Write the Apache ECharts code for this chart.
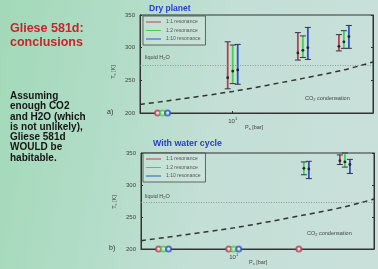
<!DOCTYPE html>
<html><head><meta charset="utf-8">
<script src="https://cdn.jsdelivr.net/npm/echarts@6/dist/echarts.min.js"></script>
<style>
html,body{margin:0;padding:0;width:378px;height:269px;overflow:hidden;}
body{background:linear-gradient(100deg,#a2d9b8 0%,#b0dcc6 28%,#c3dfd6 55%,#c9e0da 100%);}
#c{width:378px;height:269px;}
</style></head><body><div id="c"></div>
<script>
// ---- data ----
const resonances = ['1:1 resonance', '1:2 resonance', '1:10 resonance'];
const yTicks = [200, 250, 300, 350];
const xTickLabel = 10;            // 10^1 bar
const liquidT = 273;              // liquid H2O line (K)
const frozenT = 200;              // markers at the cold limit
// CO2 condensation curve: pressure (bar) / temperature (K)
const co2P = [4, 10, 20, 30, 40];
const co2T = [213, 233, 253, 266, 278];
// Dry planet: [P bar, mean T, low T, high T]
const dry11  = [[10, 254, 237, 309], [20, 292, 281, 323], [30, 302, 295, 320]];
const dry12  = [[10, 264, 245, 304], [20, 296, 285, 318], [30, 309, 299, 326]];
const dry110 = [[10, 266, 244, 305], [20, 300, 282, 331], [30, 317, 299, 334]];
const dryFrozen11 = [5], dryFrozen12 = [5], dryFrozen110 = [5];
// With water cycle
const wet11  = [[30, 338, 332, 347]];
const wet12  = [[20, 326, 316, 336], [30, 336, 328, 350]];
const wet110 = [[20, 325, 310, 337], [30, 332, 318, 340]];
const wetFrozen11 = [5, 10, 20], wetFrozen12 = [5, 10], wetFrozen110 = [5, 10];

// ---- styling ----
const colors = ['#b8404e', '#3fd34a', '#2f55c2'];
const offsets = [-5, 0, 5];
const FONT = 'Liberation Sans, Arial, sans-serif';

function errRender(offset, color) {
  return function (params, api) {
    const p = api.value(0);
    const top = api.coord([p, api.value(3)]);
    const bot = api.coord([p, api.value(2)]);
    const mid = api.coord([p, api.value(1)]);
    const x = top[0] + offset, cw = 3;
    const st = { stroke: color, lineWidth: 1.8 };
    return { type: 'group', children: [
      { type: 'line', shape: { x1: x, y1: top[1], x2: x, y2: bot[1] }, style: st },
      { type: 'line', shape: { x1: x - cw, y1: top[1], x2: x + cw, y2: top[1] }, style: { stroke: '#334', lineWidth: 1 } },
      { type: 'line', shape: { x1: x - cw, y1: bot[1], x2: x + cw, y2: bot[1] }, style: { stroke: '#334', lineWidth: 1 } },
      { type: 'circle', shape: { cx: x, cy: mid[1], r: 1.4 }, style: { fill: '#2a2030' } }
    ]};
  };
}

const grids = [
  { left: 140, top: 15, right: 5, bottom: 156, show: true, borderColor: '#333', borderWidth: 1 },
  { left: 141, top: 153, right: 4, bottom: 20, show: true, borderColor: '#333', borderWidth: 1 }
];

function xAx(gi) {
  return { type: 'log', logBase: 10, gridIndex: gi, min: 4, max: 40,
    axisLine: { lineStyle: { color: '#333' } },
    axisTick: { inside: true, length: 2, lineStyle: { color: '#333' } },
    splitLine: { show: false },
    axisLabel: { margin: 4, fontSize: 6, color: '#444', fontFamily: FONT,
      formatter: v => Math.abs(v - xTickLabel) < 0.01 ? '{b|10}{s|1}' : '',
      rich: { b: { fontSize: 6, color: '#444' }, s: { fontSize: 4, color: '#444', verticalAlign: 'top', padding: [0, 0, 5, 0] } } } };
}
function yAx(gi, right) {
  return { type: 'value', gridIndex: gi, min: yTicks[0], max: yTicks[yTicks.length - 1], interval: 50,
    position: right ? 'right' : 'left',
    axisLine: { show: true, lineStyle: { color: '#333' } },
    axisTick: { show: true, inside: true, length: 2, lineStyle: { color: '#333' } },
    splitLine: { show: false },
    axisLabel: { show: !right, margin: 5, fontSize: 6, color: '#444', fontFamily: FONT } };
}

const series = [];
const sets = [
  { gi: 0, err: [dry11, dry12, dry110], frozen: [dryFrozen11, dryFrozen12, dryFrozen110] },
  { gi: 1, err: [wet11, wet12, wet110], frozen: [wetFrozen11, wetFrozen12, wetFrozen110] }
];
sets.forEach(s => {
  series.push({ type: 'line', xAxisIndex: s.gi, yAxisIndex: s.gi * 2, symbol: 'none', silent: true,
    data: co2P.map((p, i) => [p, co2T[i]]), smooth: 0.3,
    lineStyle: { color: '#333', width: 1.5, type: [5, 4] },
    markLine: { silent: true, symbol: 'none', label: { show: false },
      lineStyle: { color: '#7f8c88', width: 0.8, type: [1, 1.5] }, data: [{ yAxis: liquidT }] } });
  for (let r = 0; r < 3; r++) {
    series.push({ type: 'custom', name: resonances[r], xAxisIndex: s.gi, yAxisIndex: s.gi * 2,
      itemStyle: { color: colors[r] }, renderItem: errRender(offsets[r], colors[r]),
      encode: { x: 0, y: [1, 2, 3] }, data: s.err[r], clip: false });
    series.push({ type: 'scatter', xAxisIndex: s.gi, yAxisIndex: s.gi * 2, symbol: 'emptyCircle', symbolSize: 5,
      symbolOffset: [offsets[r], 0], clip: false,
      itemStyle: { color: colors[r], borderWidth: 1.3 },
      data: s.frozen[r].map(p => [p, frozenT]) });
  }
});

function legend(left, top) {
  return { left, top, orient: 'vertical', itemWidth: 15, itemHeight: 1, itemGap: 2.5,
    padding: [3, 5, 3, 3], borderColor: '#444', borderWidth: 0.8, backgroundColor: 'rgba(230,240,236,0.25)',
    textStyle: { fontSize: 5, color: '#555', fontFamily: FONT, lineHeight: 6 },
    selectedMode: false,
    data: resonances.map((n, i) => ({ name: n, icon: 'rect', itemStyle: { color: colors[i] } })) };
}

const sub = { n: { fontSize: 5.5, fill: '#444', fontFamily: FONT }, s: { fontSize: 4, fill: '#444', fontFamily: FONT, padding: [4, 0, 0, 0] } };
function rt(x, y, text, rich, extra) {
  return Object.assign({ type: 'text', x, y, style: { text, rich, font: '5.5px ' + FONT, fill: '#444', textVerticalAlign: 'middle' } }, extra || {});
}

const graphic = [
  { type: 'text', x: 10, y: 22, style: { text: 'Gliese 581d:\nconclusions', font: 'bold 12.5px ' + FONT, fill: '#c8242c', lineHeight: 14 } },
  { type: 'text', x: 10, y: 91, style: { text: 'Assuming\nenough CO2\nand H2O (which\nis not unlikely),\nGliese 581d\nWOULD be\nhabitable.', font: 'bold 10px ' + FONT, fill: '#151515', lineHeight: 10.3 } },
  { type: 'text', x: 149, y: 4, style: { text: 'Dry planet', font: 'bold 8.5px ' + FONT, fill: '#2a3dc8' } },
  { type: 'text', x: 153, y: 139, style: { text: 'With water cycle', font: 'bold 8.8px ' + FONT, fill: '#2a3dc8' } },
  { type: 'text', x: 107, y: 109, style: { text: 'a)', font: '7px ' + FONT, fill: '#333' } },
  { type: 'text', x: 109, y: 245, style: { text: 'b)', font: '7px ' + FONT, fill: '#333' } },
  rt(113, 72, '{n|T}{s|s}{n| [K]}', sub, { rotation: Math.PI / 2, style: { text: '{n|T}{s|s}{n| [K]}', rich: sub, align: 'center', verticalAlign: 'middle' } }),
  rt(114, 202, '{n|T}{s|s}{n| [K]}', sub, { rotation: Math.PI / 2, style: { text: '{n|T}{s|s}{n| [K]}', rich: sub, align: 'center', verticalAlign: 'middle' } }),
  rt(245, 127, '{n|P}{s|s}{n| [bar]}', sub),
  rt(249, 262, '{n|P}{s|s}{n| [bar]}', sub),
  rt(145, 57, '{n|liquid H}{s|2}{n|O}', sub),
  rt(145, 196, '{n|liquid H}{s|2}{n|O}', sub),
  rt(305, 98, '{n|CO}{s|2}{n| condensation}', sub),
  rt(307, 233, '{n|CO}{s|2}{n| condensation}', sub)
];

const chart = echarts.init(document.getElementById('c'), null, { renderer: 'canvas' });
chart.setOption({
  backgroundColor: 'transparent',
  animation: false,
  grid: grids,
  xAxis: [xAx(0), xAx(1)],
  yAxis: [yAx(0, false), yAx(0, true), yAx(1, false), yAx(1, true)],
  legend: [legend(143, 16), legend(143, 153)],
  series,
  graphic
});
</script></body></html>
